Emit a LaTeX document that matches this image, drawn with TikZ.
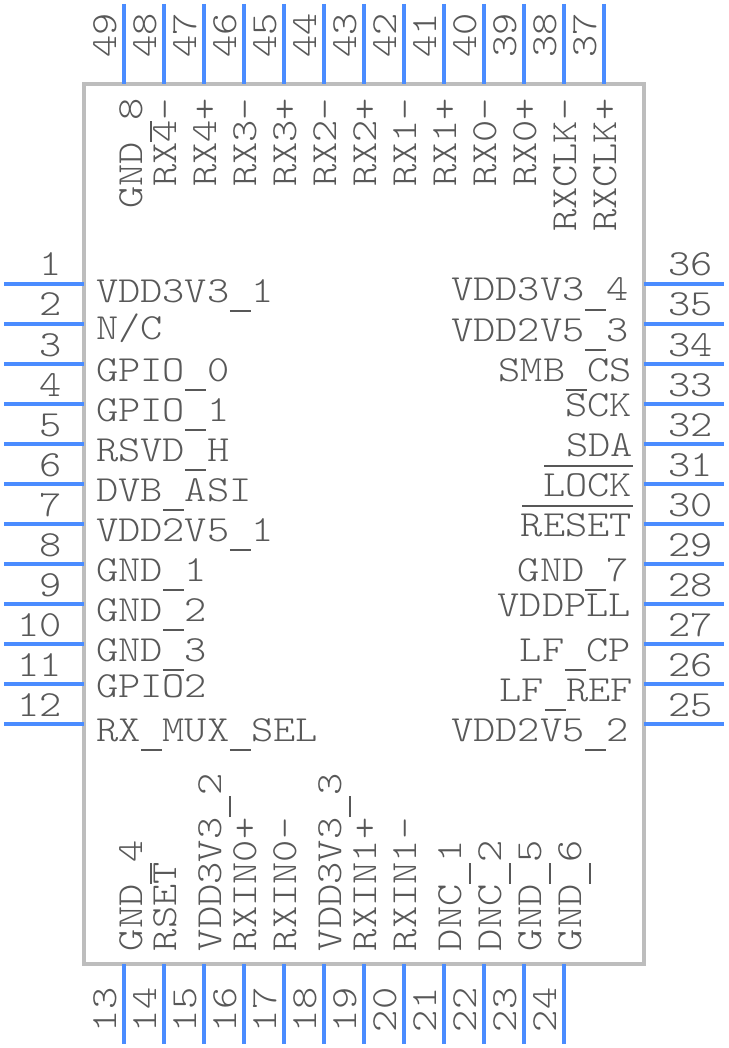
\documentclass[tikz,border=0pt]{standalone}
\usepackage{fontspec}
\setmainfont[FakeStretch=1.15]{Latin Modern Mono Light}
\definecolor{pinblue}{HTML}{4A8CFF}
\definecolor{boxgrey}{HTML}{BDBDBD}
\definecolor{txtgrey}{HTML}{585858}
\newcommand\usc{\hbox to 22.2pt{\hss\vrule width 21pt height -8pt depth 10pt\hss}}
\tikzset{
  pinline/.style={draw=pinblue,line width=4pt},
  chipbody/.style={draw=boxgrey,line width=4pt},
  lbl/.style={inner sep=0pt,outer sep=0pt,text=txtgrey,font=\fontsize{36.8pt}{36.8pt}\selectfont},
  lw/.style={lbl,anchor=base west},
  le/.style={lbl,anchor=base east},
  rw/.style={lbl,anchor=base west,rotate=90},
  bar/.style={draw=txtgrey,line width=2pt},
}
\begin{document}
\begin{tikzpicture}[x=1pt,y=-1pt]
\useasboundingbox (0,0) rectangle (728,1048);
\fill[white] (0,0) rectangle (728,1048);
\draw[chipbody] (84,84) rectangle (644,964);
% left and right pins
\foreach \i [evaluate=\i as \yy using int(284+40*(\i-1)), evaluate=\i as \r using int(37-\i)] in {1,...,12}{
  \coordinate (pl\i a) at (4,\yy); \coordinate (pl\i b) at (84,\yy);
  \draw[pinline] (pl\i a) -- (pl\i b);
  \node[le] (nl\i) at (62,\yy-8) {\i};
  \coordinate (pr\i a) at (644,\yy); \coordinate (pr\i b) at (724,\yy);
  \draw[pinline] (pr\i a) -- (pr\i b);
  \node[lw] (nr\i) at (668,\yy-8) {\r};
}
% bottom pins
\foreach \i [evaluate=\i as \xx using int(124+40*(\i-13))] in {13,...,24}{
  \coordinate (pb\i a) at (\xx,964); \coordinate (pb\i b) at (\xx,1044);
  \draw[pinline] (pb\i a) -- (pb\i b);
  \node[rw] (nb\i) at (\xx-8,1032) {\i};
}
% top pins
\foreach \i [evaluate=\i as \xx using int(604-40*(\i-37))] in {37,...,49}{
  \coordinate (pt\i a) at (\xx,4); \coordinate (pt\i b) at (\xx,84);
  \draw[pinline] (pt\i a) -- (pt\i b);
  \node[rw] (nt\i) at (\xx-8,58) {\i};
}
% left labels
\node[lw] (l1) at (96,302) {VDD3V3\usc 1};
\node[lw] (l2) at (96,339) {N/C};
\node[lw] (l3) at (96,381) {GPIO\usc 0};
\node[lw] (l4) at (96,421) {GPIO\usc 1};
\node[lw] (l5) at (96,461) {RSVD\usc H};
\node[lw] (l6) at (96,501) {DVB\usc ASI};
\node[lw] (l7) at (96,541) {VDD2V5\usc 1};
\node[lw] (l8) at (96,581) {GND\usc 1};
\node[lw] (l9) at (96,621) {GND\usc 2};
\node[lw] (l10) at (96,661) {GND\usc 3};
\node[lw] (l11) at (96,697) {GPIO2};
\node[lw] (l12) at (96,741) {RX\usc MUX\usc SEL};
% right labels
\node[le] (r36) at (629,301) {VDD3V3\usc 4};
\node[le] (r35) at (629,341) {VDD2V5\usc 3};
\node[le] (r34) at (632,381) {SMB\usc CS};
\node[le] (r33) at (632,416) {SCK};
\node[le] (r32) at (633,456) {SDA};
\node[le] (r31) at (632,496) {LOCK};
\node[le] (r30) at (632,536) {RESET};
\node[le] (r29) at (629,581) {GND\usc 7};
\node[le] (r28) at (631,616) {VDDPLL};
\node[le] (r27) at (631,661) {LF\usc CP};
\node[le] (r26) at (633,701) {LF\usc REF};
\node[le] (r25) at (629,741) {VDD2V5\usc 2};
\coordinate (lk1) at (544,466); \coordinate (lk2) at (633,466);
\coordinate (rs1) at (522,506); \coordinate (rs2) at (633,506);
\draw[bar] (lk1) -- (lk2);
\draw[bar] (rs1) -- (rs2);
% top labels
\node[rw] (t49) at (142,209) {GND\usc 8};
\node[rw] (t48) at (176,187) {RX4-};
\node[rw] (t47) at (216,187) {RX4+};
\node[rw] (t46) at (256,187) {RX3-};
\node[rw] (t45) at (296,187) {RX3+};
\node[rw] (t44) at (336,187) {RX2-};
\node[rw] (t43) at (376,187) {RX2+};
\node[rw] (t42) at (416,187) {RX1-};
\node[rw] (t41) at (456,187) {RX1+};
\node[rw] (t40) at (496,187) {RX0-};
\node[rw] (t39) at (536,187) {RX0+};
\node[rw] (t38) at (576,232) {RXCLK-};
\node[rw] (t37) at (616,232) {RXCLK+};
% bottom labels
\node[rw] (b13) at (142,951) {GND\usc 4};
\node[rw] (b14) at (176,951) {RSET};
\node[rw] (b15) at (221,951) {VDD3V3\usc 2};
\node[rw] (b16) at (256,951) {RXIN0+};
\node[rw] (b17) at (296,951) {RXIN0-};
\node[rw] (b18) at (341,951) {VDD3V3\usc 3};
\node[rw] (b19) at (376,951) {RXIN1+};
\node[rw] (b20) at (416,951) {RXIN1-};
\node[rw] (b21) at (461,951) {DNC\usc 1};
\node[rw] (b22) at (501,951) {DNC\usc 2};
\node[rw] (b23) at (541,951) {GND\usc 5};
\node[rw] (b24) at (581,951) {GND\usc 6};
\end{tikzpicture}
\end{document}
